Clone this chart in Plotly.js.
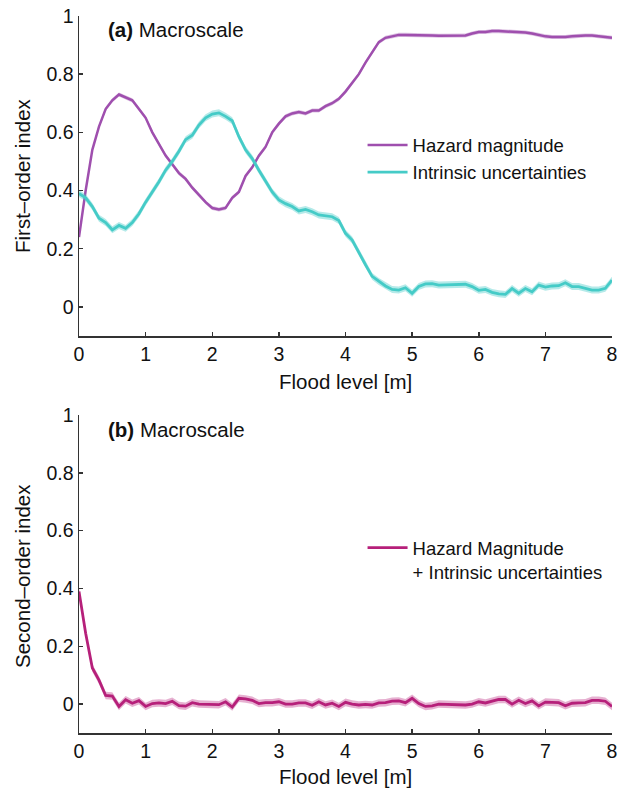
<!DOCTYPE html>
<html>
<head>
<meta charset="utf-8">
<script src="https://cdn.plot.ly/plotly-3.0.1.min.js"></script>
<style>html,body{margin:0;padding:0;background:#fff;}#chart{width:621px;height:791px;}</style>
</head>
<body>
<div id="chart"></div>
<script>
const floodLevel = [0,0.1,0.2,0.3,0.4,0.5,0.6,0.7,0.8,0.9,1,1.1,1.2,1.3,1.4,1.5,1.6,1.7,1.8,1.9,2,2.1,2.2,2.3,2.4,2.5,2.6,2.7,2.8,2.9,3,3.1,3.2,3.3,3.4,3.5,3.6,3.7,3.8,3.9,4,4.1,4.2,4.3,4.4,4.5,4.6,4.7,4.8,4.9,5,5.1,5.2,5.3,5.4,5.5,5.6,5.7,5.8,5.9,6,6.1,6.2,6.3,6.4,6.5,6.6,6.7,6.8,6.9,7,7.1,7.2,7.3,7.4,7.5,7.6,7.7,7.8,7.9,8];

const hazardMagnitude = [0.24,0.40,0.54,0.62,0.68,0.71,0.73,0.72,0.71,0.68,0.65,
  0.60,0.56,0.52,0.49,0.46,0.44,0.41,0.385,0.36,0.34,
  0.335,0.34,0.375,0.395,0.45,0.48,0.52,0.55,0.60,0.63,
  0.655,0.665,0.67,0.665,0.675,0.675,0.69,0.70,0.715,0.74,
  0.77,0.80,0.84,0.875,0.91,0.925,0.93,0.935,0.935,0.935,
  0.935,0.935,0.933,0.932,0.932,0.932,0.932,0.933,0.94,0.945,
  0.945,0.948,0.948,0.947,0.946,0.944,0.943,0.94,0.935,0.93,
  0.928,0.927,0.928,0.93,0.932,0.933,0.933,0.931,0.928,0.925];

const intrinsicUnc = [0.39,0.375,0.345,0.305,0.29,0.265,0.28,0.27,0.29,0.32,0.36,
  0.395,0.43,0.47,0.50,0.535,0.575,0.59,0.625,0.65,0.663,
  0.667,0.655,0.64,0.585,0.54,0.51,0.47,0.43,0.395,0.368,
  0.355,0.345,0.33,0.335,0.327,0.316,0.313,0.31,0.297,0.253,
  0.23,0.19,0.145,0.105,0.087,0.072,0.06,0.058,0.066,0.047,
  0.07,0.079,0.08,0.075,0.076,0.077,0.078,0.078,0.07,0.057,
  0.06,0.05,0.045,0.043,0.063,0.047,0.063,0.052,0.075,0.068,
  0.072,0.073,0.083,0.07,0.07,0.064,0.058,0.058,0.064,0.092];

const secondOrder = [0.39,0.245,0.125,0.083,0.03,0.028,-0.008,0.015,0.003,0.012,-0.008,
  0.002,0.004,0.002,0.01,-0.005,-0.007,0.005,0,0,0,
  -0.002,0.008,-0.01,0.02,0.018,0.013,0.002,0.005,0.005,0.008,
  0,0,0.004,0.004,-0.004,0.008,-0.003,0.003,-0.008,0.006,
  0,-0.003,-0.001,-0.003,0.004,0.005,0.01,0.011,0.005,0.02,
  0.002,-0.008,-0.006,0,-0.001,-0.001,-0.002,-0.003,0,0.008,
  0.004,0.01,0.016,0.016,0,0.013,0.002,0.011,-0.006,0.007,
  0.005,0.005,-0.006,0.003,0.004,0.005,0.013,0.013,0.01,-0.008];

// half-width of the shaded confidence bands
const hazardCI = 0.007;
const intrinsicCI = 0.012;
const secondCI = 0.013;

const seriesNames = ["Hazard magnitude", "Intrinsic uncertainties", "Hazard Magnitude<br>+ Intrinsic uncertainties"];
const xTicks = [0,1,2,3,4,5,6,7,8];
const yTicks = [0,0.2,0.4,0.6,0.8,1];
const yTickText = ["0","0.2","0.4","0.6","0.8","1"];

const purple = "#9f4fae", cyan = "#45cbc7", magenta = "#b6207a";

function band(y, hw, color, xa, ya) {
  return [
    {x: floodLevel, y: y.map(v => v + hw), xaxis: xa, yaxis: ya, mode: "lines",
     line: {width: 0, color: color}, showlegend: false, hoverinfo: "skip"},
    {x: floodLevel, y: y.map(v => v - hw), xaxis: xa, yaxis: ya, mode: "lines",
     line: {width: 0, color: color}, fill: "tonexty", fillcolor: color, showlegend: false, hoverinfo: "skip"}
  ];
}

const data = [
  ...band(hazardMagnitude, hazardCI, "rgba(159,79,174,0.35)", "x", "y"),
  {x: floodLevel, y: hazardMagnitude, xaxis: "x", yaxis: "y", mode: "lines", name: seriesNames[0],
   line: {color: purple, width: 2.5}, legend: "legend"},
  ...band(intrinsicUnc, intrinsicCI, "rgba(69,203,199,0.4)", "x", "y"),
  {x: floodLevel, y: intrinsicUnc, xaxis: "x", yaxis: "y", mode: "lines", name: seriesNames[1],
   line: {color: cyan, width: 2.8}, legend: "legend"},
  ...band(secondOrder, secondCI, "rgba(182,32,122,0.35)", "x2", "y2"),
  {x: floodLevel, y: secondOrder, xaxis: "x2", yaxis: "y2", mode: "lines", name: seriesNames[2],
   line: {color: magenta, width: 2.8}, legend: "legend2"}
];

const fontFam = "Liberation Sans, Arial, sans-serif";
const axisCommon = {
  showline: true, linecolor: "#333", linewidth: 1.5, showgrid: false, zeroline: false,
  ticks: "inside", ticklen: 4, tickwidth: 1.5, tickcolor: "#333",
  tickfont: {family: fontFam, size: 19.5, color: "#111"}
};

const layout = {
  width: 621, height: 791,
  margin: {l: 79, r: 9, t: 0, b: 0},
  paper_bgcolor: "#fff", plot_bgcolor: "#fff",
  font: {family: fontFam, color: "#111"},
  showlegend: true,
  xaxis: Object.assign({}, axisCommon, {range: [0, 8], tickvals: xTicks, anchor: "y", domain: [0, 1]}),
  yaxis: Object.assign({}, axisCommon, {range: [-0.1, 1], tickvals: yTicks, ticktext: yTickText, anchor: "x", domain: [0.5752, 0.9798]}),
  xaxis2: Object.assign({}, axisCommon, {range: [0, 8], tickvals: xTicks, anchor: "y2", domain: [0, 1]}),
  yaxis2: Object.assign({}, axisCommon, {range: [-0.1, 1], tickvals: yTicks, ticktext: yTickText, anchor: "x2", domain: [0.0733, 0.4753]}),
  legend: {x: 0.532, xanchor: "left", y: 0.84, yanchor: "top", bgcolor: "rgba(0,0,0,0)", traceorder: "normal",
           font: {family: fontFam, size: 18.5, color: "#111"}, itemwidth: 40, tracegroupgap: 0},
  legend2: {x: 0.532, xanchor: "left", y: 0.331, yanchor: "top", bgcolor: "rgba(0,0,0,0)", valign: "top",
            font: {family: fontFam, size: 18.5, color: "#111"}, itemwidth: 40},
  annotations: [
    {xref: "x", yref: "y", x: 0.4, y: 0.952, xanchor: "left", yanchor: "middle", showarrow: false,
     text: "<b>(a)</b> Macroscale", font: {family: fontFam, size: 20.5, color: "#111"}},
    {xref: "x2", yref: "y2", x: 0.4, y: 0.95, xanchor: "left", yanchor: "middle", showarrow: false,
     text: "<b>(b)</b> Macroscale", font: {family: fontFam, size: 20.5, color: "#111"}},
    {xref: "paper", yref: "paper", x: 0.5, y: 1 - 381/791, xanchor: "center", yanchor: "middle", showarrow: false,
     text: "Flood level [m]", font: {family: fontFam, size: 20.5, color: "#111"}},
    {xref: "paper", yref: "paper", x: 0.5, y: 1 - 776/791, xanchor: "center", yanchor: "middle", showarrow: false,
     text: "Flood level [m]", font: {family: fontFam, size: 20.5, color: "#111"}},
    {xref: "paper", yref: "paper", x: -57/533, y: 1 - 176/791, xanchor: "center", yanchor: "middle", showarrow: false,
     textangle: -90, text: "First\u2013order index", font: {family: fontFam, size: 20.5, color: "#111"}},
    {xref: "paper", yref: "paper", x: -57/533, y: 1 - 576/791, xanchor: "center", yanchor: "middle", showarrow: false,
     textangle: -90, text: "Second\u2013order index", font: {family: fontFam, size: 20.5, color: "#111"}}
  ]
};

Plotly.newPlot("chart", data, layout, {displayModeBar: false, staticPlot: true});
</script>
</body>
</html>
